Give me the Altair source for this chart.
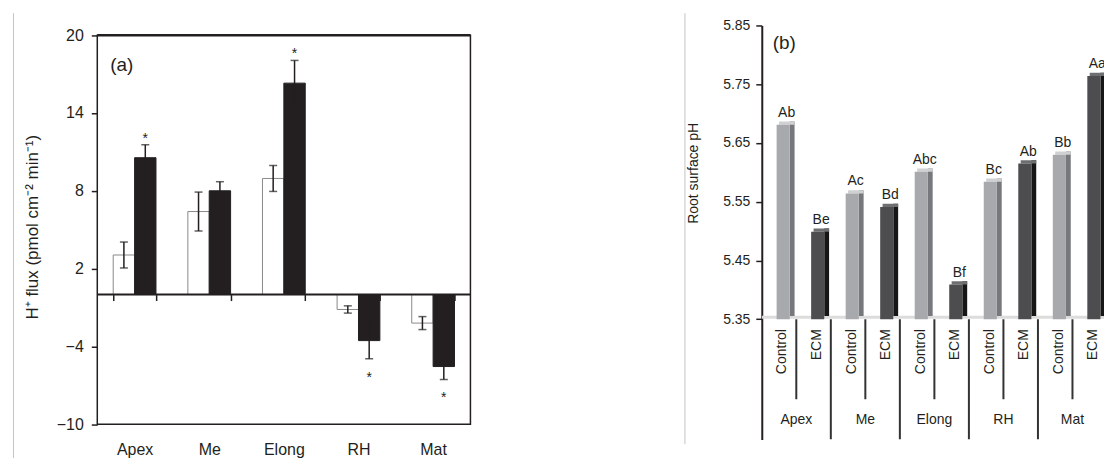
import altair as alt
import pandas as pd

# ---------------- data ----------------
regions = ["Apex", "Me", "Elong", "RH", "Mat"]
treatments = ["Control", "ECM"]

# panel (a): H+ flux (pmol cm-2 min-1)
flux_control = [3.05, 6.4, 8.95, -1.15, -2.2]
flux_control_se = [1.0, 1.5, 1.0, 0.28, 0.5]
flux_ecm = [10.55, 8.0, 16.3, -3.55, -5.55]
flux_ecm_se = [1.0, 0.7, 1.75, 1.4, 1.0]
flux_ecm_sig = [True, False, True, True, True]
flux_ticks = [-10, -4, 2, 8, 14, 20]

# panel (b): root surface pH
ph_control = [5.681, 5.564, 5.601, 5.584, 5.630]
ph_ecm = [5.499, 5.541, 5.409, 5.615, 5.764]
ph_letters_control = ["Ab", "Ac", "Abc", "Bc", "Bb"]
ph_letters_ecm = ["Be", "Bd", "Bf", "Ab", "Aa"]
ph_ticks = [5.35, 5.45, 5.55, 5.65, 5.75, 5.85]

# ---------------- style ----------------
FONT = "Liberation Sans"
INK = "#231f20"
GRAYLINE = "#c4c4c4"
EXTRA_TOP = 9.7          # px of empty room above panel (a)'s frame

# ---------------- panel (a) ----------------
rows = []
for i, r in enumerate(regions):
    rows.append(dict(region=r, treatment="Control", mean=flux_control[i], se=flux_control_se[i], sig=False))
    rows.append(dict(region=r, treatment="ECM", mean=flux_ecm[i], se=flux_ecm_se[i], sig=flux_ecm_sig[i]))
dfa = pd.DataFrame(rows)
dfa["lo"] = dfa["mean"] - dfa["se"]
dfa["hi"] = dfa["mean"] + dfa["se"]

Wa = 374
PXU = 13.0                               # px per flux unit
Ha = 390 + EXTRA_TOP
ya_top = 20 + EXTRA_TOP / PXU

xa = alt.X(
    "region:N", sort=regions,
    scale=alt.Scale(paddingInner=0.427, paddingOuter=0.2135),
    axis=alt.Axis(title=None, orient="bottom", offset=-130, tickBand="extent",
                  tickSize=6, tickWidth=1.5, tickColor=INK, domain=False,
                  labelPadding=141, labelFontSize=16, labelFont=FONT,
                  labelColor=INK, labelAngle=0),
)
xoff = alt.XOffset("treatment:N", sort=treatments,
                   scale=alt.Scale(paddingInner=0, paddingOuter=0))
ya_scale = alt.Scale(domain=[-10, ya_top], nice=False, zero=False)
ya_axis = alt.Axis(values=flux_ticks, title="H⁺ flux (pmol cm⁻² min⁻¹)",
                   tickSize=6, tickWidth=1.5, tickColor=INK, domain=False,
                   labelPadding=8, labelFontSize=16,
                   labelFont=FONT, labelColor=INK, titleFont=FONT,
                   titleFontSize=17, titleFontWeight="normal", titleColor=INK,
                   titleX=-65, titleY=225 - 23.3, titleAngle=270,
                   titleAlign="center", titleBaseline="middle", grid=False)

def YA(f):
    return alt.Y(f, scale=ya_scale, axis=ya_axis)

base_a = alt.Chart(dfa)
one = pd.DataFrame({"top": [20], "bottom": [-10], "zero": [0]})

bars_a = base_a.mark_bar(strokeWidth=1).encode(
    x=xa, xOffset=xoff,
    y=YA("mean:Q"),
    y2=alt.datum(0),
    fill=alt.Fill("treatment:N", scale=alt.Scale(domain=treatments, range=["#ffffff", INK]), legend=None),
    stroke=alt.Stroke("treatment:N", scale=alt.Scale(domain=treatments, range=["#8a8a8a", INK]), legend=None),
)
err_a = base_a.mark_rule(color=INK, strokeWidth=1.5).encode(
    x=xa, xOffset=xoff, y=YA("lo:Q"), y2="hi:Q")
cap_hi = base_a.mark_tick(color=INK, size=8, thickness=1.5).encode(
    x=xa, xOffset=xoff, y=YA("hi:Q"))
cap_lo = base_a.mark_tick(color=INK, size=8, thickness=1.5).encode(
    x=xa, xOffset=xoff, y=YA("lo:Q"))
star_pos = base_a.transform_filter("datum.sig && datum.mean > 0").mark_text(
    text="*", fontSize=14, font=FONT, color=INK, baseline="middle", dy=-6).encode(
    x=xa, xOffset=xoff, y=YA("hi:Q"))
star_neg = base_a.transform_filter("datum.sig && datum.mean < 0").mark_text(
    text="*", fontSize=14, font=FONT, color=INK, baseline="middle", dy=19).encode(
    x=xa, xOffset=xoff, y=YA("lo:Q"))
zero_a = alt.Chart(one).mark_rule(color=INK, strokeWidth=2).encode(y=YA("zero:Q"))
frame_a = alt.Chart(one).mark_rect(fillOpacity=0, stroke=INK, strokeWidth=1.5).encode(
    x=alt.value(0), x2=alt.value(Wa), y=YA("top:Q"), y2="bottom:Q")
top_a = alt.Chart(one).mark_rule(color=INK, strokeWidth=2.5).encode(
    x=alt.value(0), x2=alt.value(Wa), y=YA("top:Q"))
edge_a = alt.Chart(one).mark_rule(color=GRAYLINE, strokeWidth=1).encode(
    x=alt.value(-84), y=alt.value(-12.3), y2=alt.value(433.5))
tag_a = alt.Chart(pd.DataFrame({"t": ["(a)"]})).mark_text(
    align="left", baseline="middle", fontSize=19, font=FONT, color=INK).encode(
    x=alt.value(13), y=alt.value(30 + EXTRA_TOP), text="t:N")

panel_a = alt.layer(bars_a, err_a, cap_hi, cap_lo, zero_a, star_pos, star_neg,
                    frame_a, top_a, edge_a, tag_a).properties(width=Wa, height=Ha)

# ---------------- panel (b) ----------------
SLOT = 34.6
Wb, Hb = 343, 415
ymin_b = 5.35 - (Hb - 294.4) / 588.8
rows = []
for g, r in enumerate(regions):
    for t, tr in enumerate(treatments):
        i = 2 * g + t
        val = ph_control[g] if t == 0 else ph_ecm[g]
        let = ph_letters_control[g] if t == 0 else ph_letters_ecm[g]
        rows.append(dict(region=r, treatment=tr, slot=i, ph=val, letter=let))
dfb = pd.DataFrame(rows)
dfb["fx0"] = dfb["slot"] + 0.43
dfb["fx1"] = dfb["slot"] + 0.81
dfb["sx1"] = dfb["slot"] + 0.95
dfb["tx0"] = dfb["slot"] + 0.50
dfb["lx"] = dfb["slot"] + 0.72
dfb["cx"] = dfb["slot"] + 0.60
dfb["ph_top"] = dfb["ph"] + 0.0055
dfb["floor"] = 5.35
dfb["floor_b"] = 5.3555

xb_scale = alt.Scale(domain=[0, Wb / SLOT], nice=False, zero=False)
yb_scale = alt.Scale(domain=[ymin_b, 5.85], nice=False, zero=False)
yb_axis = alt.Axis(values=ph_ticks, format=".2f", title="Root surface pH",
                   tickSize=6, tickWidth=1.5, tickColor=INK, domainColor=INK,
                   domainWidth=2, labelPadding=6, labelFontSize=14, labelFont=FONT,
                   labelColor=INK, titleFont=FONT, titleFontSize=14,
                   titleFontWeight="normal", titleColor=INK, titleX=-68,
                   titleY=147.7, titleAngle=270, titleAlign="center",
                   titleBaseline="middle", grid=False)

base_b = alt.Chart(dfb)

def XB(f):
    return alt.X(f, scale=xb_scale, axis=None)

def YB(f):
    return alt.Y(f, scale=yb_scale, axis=yb_axis)

floor_b = alt.Chart(pd.DataFrame({"z": [5.35]})).mark_rule(
    color="#dcdcdc", strokeWidth=3, yOffset=-2, clip=True).encode(y=YB("z:Q"))
side_b = base_b.mark_bar(clip=True).encode(
    x=XB("fx1:Q"), x2="sx1:Q", y=YB("ph_top:Q"), y2="floor_b:Q",
    color=alt.Color("treatment:N", scale=alt.Scale(domain=treatments, range=["#77787b", "#161616"]), legend=None))
topf_b = base_b.mark_bar(clip=True).encode(
    x=XB("tx0:Q"), x2="sx1:Q", y=YB("ph_top:Q"), y2="ph:Q",
    color=alt.Color("treatment:N", scale=alt.Scale(domain=treatments, range=["#cfd0d2", "#6e6f71"]), legend=None))
front_b = base_b.mark_bar(clip=True).encode(
    x=XB("fx0:Q"), x2="fx1:Q", y=YB("ph:Q"), y2="floor:Q",
    color=alt.Color("treatment:N", scale=alt.Scale(domain=treatments, range=["#a7a9ac", "#4d4d4f"]), legend=None))
letters_b = base_b.mark_text(fontSize=14, font=FONT, color=INK, baseline="bottom", dy=-5, clip=True).encode(
    x=XB("lx:Q"), y=YB("ph:Q"), text="letter:N")
trt_b = base_b.mark_text(fontSize=14, font=FONT, color=INK, angle=270, align="right",
                         baseline="middle", clip=True).encode(
    x=XB("cx:Q"), y=alt.datum(5.333), text="treatment:N")

# separators between bars (short) and between regions (long)
sep_rows = []
for g, r in enumerate(regions):
    sep_rows.append(dict(pos=2 * g + 1, y0=5.35, y1=5.2136, kind="short", region=r))
    sep_rows.append(dict(pos=2 * g + 2, y0=5.35, y1=ymin_b, kind="long", region=r))
dfs = pd.DataFrame(sep_rows)
sep_b = alt.Chart(dfs).mark_rule(color="#333333", strokeWidth=2, clip=True).encode(
    x=XB("pos:Q"), y=YB("y0:Q"), y2="y1:Q")
grp_b = alt.Chart(dfs).transform_filter("datum.kind == 'short'").mark_text(
    fontSize=14, font=FONT, color=INK, baseline="middle", clip=True).encode(
    x=XB("pos:Q"), y=alt.datum(5.178), text="region:N")
edge_b = alt.Chart(pd.DataFrame({"z": [0]})).mark_rule(color=GRAYLINE, strokeWidth=1).encode(
    x=alt.value(-77), y=alt.value(-12.3), y2=alt.value(419.7))
tag_b = alt.Chart(pd.DataFrame({"t": ["(b)"]})).mark_text(
    align="left", baseline="middle", fontSize=19, font=FONT, color=INK).encode(
    x=alt.value(11), y=alt.value(18), text="t:N")

panel_b = alt.layer(floor_b, side_b, topf_b, front_b, letters_b, trt_b, sep_b, grp_b,
                    edge_b, tag_b).resolve_scale(color="independent").properties(width=Wb, height=Hb)

chart = alt.hconcat(panel_a, panel_b, spacing=212).properties(
    padding={"left": 12.5, "top": 11, "right": 0, "bottom": 0},
    background="white",
).configure_view(stroke="transparent").configure_axis(grid=False)

chart.save("out.html", embed_options={"renderer": "svg", "actions": False})
